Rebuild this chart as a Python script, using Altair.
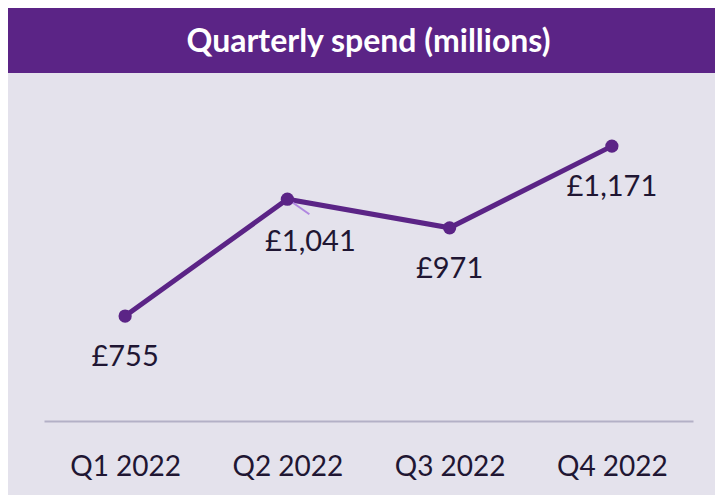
import altair as alt
import pandas as pd

quarters = ["Q1 2022", "Q2 2022", "Q3 2022", "Q4 2022"]
spend = [755, 1041, 971, 1171]
labels = ["£755", "£1,041", "£971", "£1,171"]

df = pd.DataFrame({"quarter": quarters, "spend": spend, "label": labels})

PURPLE = "#5b2486"
BG = "#e4e2ec"
TEXT = "#1f1633"
FONT = "Lato"

x_enc = alt.X("quarter:N", sort=quarters,
              scale=alt.Scale(type="point", padding=0.5),
              axis=alt.Axis(title=None, labelAngle=0, ticks=False, grid=False,
                            domainColor="#b3b0c6", domainWidth=2,
                            labelFontSize=28, labelFont=FONT, labelColor=TEXT,
                            labelPadding=32))
y_enc = alt.Y("spend:Q", scale=alt.Scale(domain=[498, 1350], nice=False, zero=False),
              axis=None)

base = alt.Chart(df)

header = base.mark_rect(color=PURPLE).encode(
    x=alt.value(-36), x2=alt.value(671), y=alt.value(-65), y2=alt.value(0)
).transform_filter(alt.datum.quarter == "Q1 2022")

line = base.mark_line(color=PURPLE, strokeWidth=5).encode(x=x_enc, y=y_enc)
points = base.mark_point(filled=True, color=PURPLE, size=175, opacity=1).encode(x=x_enc, y=y_enc)

leader = base.mark_rule(color="#b086e0", strokeWidth=2, xOffset=2, yOffset=1,
                        x2Offset=22, y2Offset=15).encode(
    x=x_enc, y=y_enc, x2="quarter:N", y2="spend:Q"
).transform_filter(alt.datum.quarter == "Q2 2022")

text_main = base.mark_text(font=FONT, fontSize=29, color=TEXT, baseline="alphabetic",
                           dy=50).encode(x=x_enc, y=y_enc, text="label:N"
).transform_filter(alt.datum.quarter != "Q2 2022")
text_q2 = base.mark_text(font=FONT, fontSize=29, color=TEXT, baseline="alphabetic",
                         dy=52, dx=23).encode(x=x_enc, y=y_enc, text="label:N"
).transform_filter(alt.datum.quarter == "Q2 2022")

chart = alt.layer(header, line, leader, points, text_main, text_q2).properties(
    width=649, height=348,
    title=alt.Title("Quarterly spend (millions)", anchor="middle", color="white",
                    font=FONT, fontSize=32, fontWeight="bold", offset=-76,
                    baseline="alphabetic"),
    autosize=alt.AutoSizeParams(type="none"),
    padding={"left": 36, "right": 22, "top": 65, "bottom": 74},
    background=BG,
).configure_view(stroke=None)

chart.save("out.html", embed_options={"renderer": "svg", "actions": False})
